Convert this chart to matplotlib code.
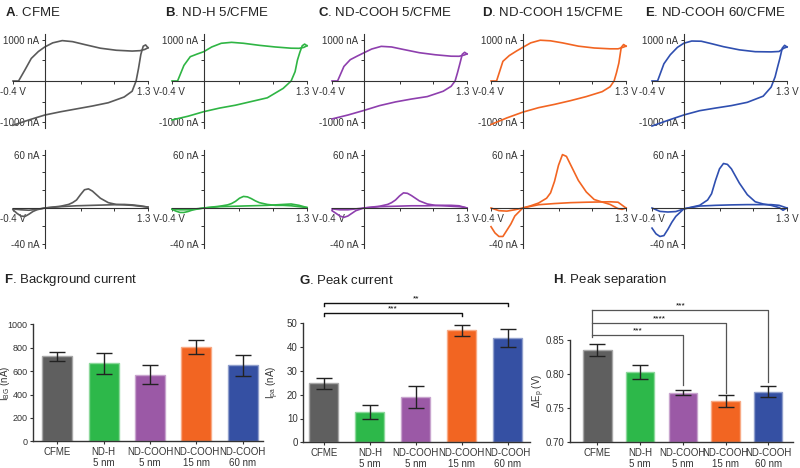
import numpy as np
import matplotlib
matplotlib.use('Agg')
import matplotlib.pyplot as plt

plt.rcParams['font.family'] = ['Liberation Sans', 'DejaVu Sans']
plt.rcParams['mathtext.fontset'] = 'custom'
plt.rcParams['mathtext.rm'] = 'Liberation Sans'
plt.rcParams['mathtext.it'] = 'Liberation Sans:italic'
plt.rcParams['mathtext.bf'] = 'Liberation Sans:bold'

# ---- cyclic voltammograms ----
panel_titles = ['CFME', 'ND-H 5/CFME', 'ND-COOH 5/CFME', 'ND-COOH 15/CFME', 'ND-COOH 60/CFME']
line_colors = ['#5a5a5a', '#2fb544', '#8e3fae', '#f26522', '#2f4fb0']

# background CVs, potential grids (V)
bg_v_fwd = [-0.4, -0.33, -0.25, -0.17, -0.08, 0.0, 0.1, 0.22, 0.35, 0.5, 0.7, 0.9, 1.1, 1.2, 1.26, 1.3]
bg_v_rev = [1.3, 1.27, 1.24, 1.21, 1.18, 1.15, 1.1, 1.0, 0.8, 0.6, 0.4, 0.2, 0.0, -0.2, -0.4]
# currents (nA)
bg_i_fwd_cfme = [0, 0, 270, 550, 720, 830, 930, 985, 960, 890, 800, 750, 730, 740, 770, 810]
bg_i_rev_cfme = [810, 880, 850, 650, 300, 0, -250, -390, -530, -610, -680, -750, -830, -950, -1080]
bg_i_fwd_ndh = [0, 0, 380, 593, 660, 715, 830, 920, 943, 920, 870, 830, 800, 797, 820, 860]
bg_i_rev_ndh = [860, 900, 860, 700, 512, 228, 0, -180, -410, -500, -590, -660, -748, -860, -950]
bg_i_fwd_cooh5 = [0, 0, 355, 520, 610, 686, 780, 845, 830, 769, 690, 640, 605, 603, 630, 660]
bg_i_rev_cooh5 = [660, 700, 650, 420, 200, 0, -130, -250, -380, -440, -510, -600, -719, -830, -925]
bg_i_fwd_cooh15 = [0, 0, 480, 620, 730, 820, 930, 995, 980, 930, 850, 805, 785, 785, 820, 850]
bg_i_rev_cooh15 = [850, 890, 820, 438, 200, 0, -140, -260, -380, -480, -570, -650, -760, -900, -1060]
bg_i_fwd_cooh60 = [0, 0, 420, 640, 820, 920, 975, 970, 910, 837, 760, 715, 710, 720, 800, 830]
bg_i_rev_cooh60 = [830, 870, 800, 550, 330, 100, -150, -370, -520, -600, -660, -724, -829, -960, -1098]

# dopamine CVs, potential grids (V)
da_v_fwd = [-0.4, -0.3, -0.2, -0.1, 0.0, 0.1, 0.2, 0.3, 0.35, 0.4, 0.45, 0.5, 0.55, 0.6, 0.65, 0.7,
            0.8, 0.9, 1.0, 1.1, 1.2, 1.25, 1.3]
da_v_rev = [1.3, 1.2, 1.1, 1.0, 0.8, 0.6, 0.4, 0.2, 0.0, -0.1, -0.15, -0.2, -0.25, -0.3, -0.35, -0.4]
# currents (nA)
da_i_fwd_cfme = [-1, -2, -2.5, -1.5, 0, 1, 2, 4, 6, 9, 15, 20.5, 21.5, 19, 15, 11, 6, 4, 3.5, 3, 2, 1.5, 1]
da_i_rev_cfme = [1, 2.5, 3.5, 4, 3.5, 3, 2.5, 1.5, 0, -2, -4, -7, -9.5, -9, -6, -2]
da_i_fwd_ndh = [-1, -2, -2, -1, 0, 1, 2, 3.5, 5, 7.5, 11, 13, 12.5, 10.5, 8, 6, 4, 3, 3, 2.5, 1.5, 1, 0.5]
da_i_rev_ndh = [0.5, 3, 4.5, 4, 3, 2.5, 2, 1.5, 0, -1.5, -2.5, -4, -5, -5, -3.5, -1.5]
da_i_fwd_cooh5 = [-1, -2, -2, -1, 0, 1, 2, 4, 6, 9, 13.5, 17, 16.5, 14, 11, 8, 4.5, 3, 2.5, 2, 1.5, 1, 0]
da_i_rev_cooh5 = [0, 2.5, 3, 3, 2.5, 2.5, 2, 1.5, 0, -3, -6, -9, -10.5, -9, -6, -3]
da_i_fwd_cooh15 = [0, -3, -3.5, -2, 0, 2.5, 5.6, 11, 17, 30, 48, 60, 58, 49, 40, 31, 18, 9.5, 6.7, 4, -0.7, -1.5, 0]
da_i_rev_cooh15 = [0, 6.5, 7, 6.8, 6.5, 6, 5, 3.7, 0, -9, -18, -25, -32, -32, -28, -21]
da_i_fwd_cooh60 = [0, -3.8, -4.5, -4, -1, 1, 3, 9, 16, 31, 44, 50, 49, 44, 36, 28, 15, 7, 4.5, 3, 0.5, -2.5, 0]
da_i_rev_cooh60 = [0, 3, 3.8, 3.8, 3.8, 3.5, 3, 2.2, -1, -9.4, -16, -24, -31, -32, -29, -22.6]

bg_fwd = [bg_i_fwd_cfme, bg_i_fwd_ndh, bg_i_fwd_cooh5, bg_i_fwd_cooh15, bg_i_fwd_cooh60]
bg_rev = [bg_i_rev_cfme, bg_i_rev_ndh, bg_i_rev_cooh5, bg_i_rev_cooh15, bg_i_rev_cooh60]
da_fwd = [da_i_fwd_cfme, da_i_fwd_ndh, da_i_fwd_cooh5, da_i_fwd_cooh15, da_i_fwd_cooh60]
da_rev = [da_i_rev_cfme, da_i_rev_ndh, da_i_rev_cooh5, da_i_rev_cooh15, da_i_rev_cooh60]

# ---- bar charts ----
groups = ['CFME', 'ND-H\n5 nm', 'ND-COOH\n5 nm', 'ND-COOH\n15 nm', 'ND-COOH\n60 nm']
bar_colors = ['#5f5f5f', '#2db84a', '#9b59a6', '#f26522', '#3550a3']
bg_current = [725, 665, 570, 805, 650]
bg_current_err = [38, 90, 80, 60, 88]
peak_current = [24.8, 12.7, 19.0, 47.0, 43.7]
peak_current_err = [2.3, 3.0, 4.6, 2.2, 3.8]
peak_sep = [0.835, 0.803, 0.773, 0.760, 0.774]
peak_sep_err = [0.009, 0.0097, 0.0042, 0.0088, 0.008]

W, H = 800, 468
fig = plt.figure(figsize=(W / 100, H / 100), dpi=100)


def px_rect(left, top, right, bottom):
    return [left / W, 1 - bottom / H, (right - left) / W, (bottom - top) / H]


def cv_axes(rect, ylim, yticks, ylabels):
    ax = fig.add_axes(rect)
    ax.set_xlim(-0.4, 1.3)
    ax.set_ylim(*ylim)
    for s in ['top', 'right']:
        ax.spines[s].set_visible(False)
    ax.spines['left'].set_position(('data', 0))
    ax.spines['bottom'].set_position(('data', 0))
    for s in ['left', 'bottom']:
        ax.spines[s].set_linewidth(0.8)
        ax.spines[s].set_color('#333333')
    ax.set_xticks([-0.4, 0.45, 0.875, 1.3])
    ax.set_xticklabels(['-0.4 V', '', '', '1.3 V'])
    ax.set_yticks(yticks)
    ax.set_yticklabels(ylabels)
    ax.tick_params(labelsize=7, length=2.5, width=0.7, pad=1.5, colors='#333333')
    ax.patch.set_alpha(0)
    return ax


# top row: background, bottom row: dopamine
lefts = [13, 172, 332, 491, 652]
title_x = [5, 165, 318, 482, 645]
for k in range(5):
    l = lefts[k]
    ax = cv_axes(px_rect(l, 33.85, l + 135, 128.15), (-1150, 1150),
                 [-1000, -500, 0, 500, 1000], ['-1000 nA', '', '', '', '1000 nA'])
    ax.plot(bg_v_fwd, bg_fwd[k], color=line_colors[k], lw=1.2, clip_on=False)
    ax.plot(bg_v_rev, bg_rev[k], color=line_colors[k], lw=1.2, clip_on=False)

    ax2 = cv_axes(px_rect(l, 150.15, l + 135, 248.05), (-45, 65),
                  [-40, -20, 0, 20, 40, 60], ['-40 nA', '', '', '', '', '60 nA'])
    ax2.plot(da_v_fwd, da_fwd[k], color=line_colors[k], lw=1.2, clip_on=False)
    ax2.plot(da_v_rev, da_rev[k], color=line_colors[k], lw=1.2, clip_on=False)

    letter = 'ABCDE'[k]
    fig.text(title_x[k] / W, 1 - 12 / H, r'$\mathbf{%s}$. %s' % (letter, panel_titles[k]),
             fontsize=9.5, va='center', ha='left', color='#222222')


def lighten(c, f=0.45):
    c = np.array(matplotlib.colors.to_rgb(c))
    return tuple(c + (1 - c) * f)


def bar_axes(rect, vals, errs, xlim, ylim, yticks, ylabel, width, yfmt, label_x, ysize=7):
    ax = fig.add_axes(rect)
    x = np.arange(len(groups))
    ax.bar(x, [v - ylim[0] for v in vals], width, bottom=ylim[0], color=bar_colors,
           edgecolor=[lighten(c) for c in bar_colors], linewidth=1)
    ax.errorbar(x, vals, yerr=errs, fmt='none', ecolor='#222222', elinewidth=1,
                capsize=5.5, capthick=1)
    ax.set_xlim(*xlim)
    ax.set_ylim(*ylim)
    ax.set_xticks(x)
    ax.set_xticklabels(groups, fontsize=7, linespacing=1.1)
    ax.set_yticks(yticks)
    ax.set_yticklabels([yfmt % t for t in yticks], fontsize=ysize)
    ax.set_ylabel(ylabel, fontsize=7, color='#333333')
    ax.yaxis.set_label_coords(label_x, 0.5)
    for s in ['top', 'right']:
        ax.spines[s].set_visible(False)
    for s in ['left', 'bottom']:
        ax.spines[s].set_linewidth(1)
        ax.spines[s].set_color('#333333')
    ax.tick_params(length=2.5, width=0.8, pad=1.5, colors='#333333')
    return ax


axF = bar_axes(px_rect(33.3, 324.3, 263, 441.3), bg_current, bg_current_err,
               (-0.518, 4.44), (0, 1000), [0, 200, 400, 600, 800, 1000],
               r'I$_{\mathrm{BG}}$ (nA)', 0.65, '%d', -0.093, ysize=6.5)
axG = bar_axes(px_rect(303.3, 323.3, 530, 442.3), peak_current, peak_current_err,
               (-0.45, 4.49), (0, 50), [0, 10, 20, 30, 40, 50],
               r'I$_{\mathrm{pa}}$ (nA)', 0.63, '%d', -0.1)
axH = bar_axes(px_rect(570, 340, 793, 442.3), peak_sep, peak_sep_err,
               (-0.644, 4.58), (0.70, 0.85), [0.70, 0.75, 0.80, 0.85],
               r'ΔE$_{\mathrm{p}}$ (V)', 0.66, '%.2f', -0.105)

# significance brackets, peak current
for x0, x1, y, stars in [(0, 4, 58.6, '**'), (0, 3, 54.4, '***')]:
    axG.plot([x0, x0, x1, x1], [y - 1.4, y, y, y - 1.4], color='#111111', lw=1, clip_on=False)
    axG.text((x0 + x1) / 2, y + 0.2, stars, fontsize=6, ha='center', va='bottom')

# significance brackets, peak separation
xl = -0.12
axH.plot([xl, xl], [0.855, 0.894], color='#555555', lw=0.9, clip_on=False)
for x1, y, yend, stars in [(4, 0.894, 0.789, '***'), (3, 0.8754, 0.7718, '****'),
                           (2, 0.8573, 0.784, '***')]:
    axH.plot([xl, x1, x1], [y, y, yend], color='#555555', lw=0.9, clip_on=False)
    axH.text((xl + x1) / 2, y + 0.0005, stars, fontsize=6, ha='center', va='bottom')

for txt, x in [('F', 4), ('G', 299), ('H', 553)]:
    name = {'F': 'Background current', 'G': 'Peak current', 'H': 'Peak separation'}[txt]
    fig.text(x / W, 1 - 280 / H, r'$\mathbf{%s}$. %s' % (txt, name), fontsize=9.5,
             va='center', ha='left', color='#222222')

plt.savefig('out.png', dpi=100)
